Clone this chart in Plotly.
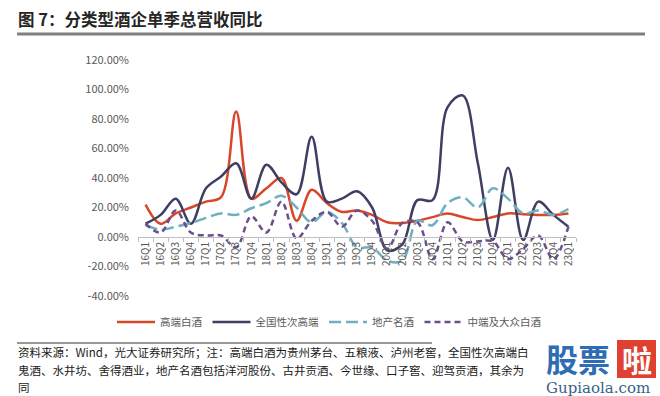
import plotly.graph_objects as go

categories = ["16Q1","16Q2","16Q3","16Q4","17Q1","17Q2","17Q3","17Q4",
              "18Q1","18Q2","18Q3","18Q4","19Q1","19Q2","19Q3","19Q4",
              "20Q1","20Q2","20Q3","20Q4","21Q1","21Q2","21Q3","21Q4",
              "22Q1","22Q2","22Q3","22Q4","23Q1"]

high_end = [22, 9, 16, 20, 24, 27, 85, 26, 33, 40, 11, 32, 23, 17, 18, 15,
            10, 9.5, 11, 13.5, 16, 13.5, 11.5, 13.5, 16, 15.5, 15, 15, 16]
sub_high = [9, 15, 26, 9, 33, 41, 50, 26, 49, 37, 29, 68, 24, 26, 31, 20,
            -9, -5, 25, 25, 88, 96, 50, -2, 47, -2, 24, 15, 7]
regional = [8, 5, 7, 9.5, 13, 16, 15, 19.5, 23, 28, 20, 10, 17, 9.5, -7, -7,
            -16, -16, 11, 8, 23, 27, 20, 33, 26, 16, 18, 15, 19]
mass = [9, 3, 18, 3, 1, 1, -7, 14, 3, 24, -1, 11, 17, 7, 18, 11,
        -8, 9.5, 10, -15, 10, -3, -3, -3, -15, -8, 1, -15, 7]

series_names = ["高端白酒", "全国性次高端", "地产名酒", "中端及大众白酒"]
series_colors = ["#D9472B", "#3F3F63", "#6FAFC0", "#6A4F8C"]
series_dash = ["solid", "solid", "12px,5px", "6px,4px"]

y_tickvals = [-40, -20, 0, 20, 40, 60, 80, 100, 120]
y_ticktext = ["-40.00%", "-20.00%", "0.00%", "20.00%", "40.00%", "60.00%",
              "80.00%", "100.00%", "120.00%"]

W, H = 660, 396
ML, MR, MT, MB = 138, 84, 60, 100
PW, PH = W - ML - MR, H - MT - MB

def px(x):
    return (x - ML) / PW

def py(y):
    return (H - MB - y) / PH

fig = go.Figure()
for name, vals, col, dash in zip(series_names, [high_end, sub_high, regional, mass],
                                 series_colors, series_dash):
    fig.add_trace(go.Scatter(
        x=categories, y=vals, name=name, mode="lines",
        line=dict(color=col, width=2.5, dash=dash, shape="spline", smoothing=1.0),
    ))

font_cjk = "Noto Sans CJK SC, Noto Sans, sans-serif"
ymin, ymax = -40, 120

fig.update_layout(
    width=W, height=H,
    margin=dict(l=ML, r=MR, t=MT, b=MB, autoexpand=False),
    paper_bgcolor="white", plot_bgcolor="white",
    font=dict(family=font_cjk, color="#595959", size=10),
    showlegend=True,
    legend=dict(orientation="h", x=px(112), xanchor="left", y=py(322), yanchor="middle",
                font=dict(size=10.5, color="#595959"), itemwidth=38,
                bgcolor="rgba(0,0,0,0)"),
    xaxis=dict(type="category", range=[-0.5, len(categories) - 0.5],
               anchor="free", position=(0 - ymin) / (ymax - ymin),
               showline=True, linecolor="#BFBFBF", linewidth=1,
               ticks="outside", tickson="boundaries", ticklen=4, tickcolor="#BFBFBF",
               tickangle=-90, tickfont=dict(size=10, color="#595959"),
               showgrid=False, zeroline=False),
    yaxis=dict(range=[ymin, ymax], tickvals=y_tickvals, ticktext=y_ticktext,
               showgrid=False, zeroline=False, showline=False,
               tickfont=dict(size=11, color="#595959"), ticks="",
               ticklabelstandoff=8),
)

# Title
fig.add_annotation(xref="paper", yref="paper", x=px(16), y=py(19), xanchor="left", yanchor="middle",
                   text="<b>图 7：分类型酒企单季总营收同比</b>", showarrow=False,
                   font=dict(size=16.5, color="#262626", family=font_cjk))
fig.add_shape(type="line", xref="paper", yref="paper", x0=px(17), x1=px(645), y0=py(34), y1=py(34),
              line=dict(color="#7F7F7F", width=3))

# Footnote
fig.add_shape(type="line", xref="paper", yref="paper", x0=px(17), x1=px(432), y0=py(343), y1=py(343),
              line=dict(color="#333333", width=1))
foot_lines = [
    "资料来源：Wind，光大证券研究所；注：高端白酒为贵州茅台、五粮液、泸州老窖，全国性次高端白",
    "鬼酒、水井坊、舍得酒业，地产名酒包括洋河股份、古井贡酒、今世缘、口子窖、迎驾贡酒，其余为",
    "同",
]
for t, yy in zip(foot_lines, [352, 370, 387]):
    fig.add_annotation(xref="paper", yref="paper", x=px(16), y=py(yy), xanchor="left", yanchor="middle",
                       text=t, showarrow=False,
                       font=dict(size=11.5, color="#1a1a1a", family=font_cjk))

# Watermark
fig.add_shape(type="rect", xref="paper", yref="paper", x0=px(540), x1=px(660), y0=py(338), y1=py(396),
              line=dict(width=0), fillcolor="rgba(255,255,255,0.85)")
fig.add_annotation(xref="paper", yref="paper", x=px(578), y=py(358), xanchor="center", yanchor="middle",
                   text="<b>股票</b>", showarrow=False,
                   font=dict(size=32, color="#2E6DB4", family=font_cjk))
fig.add_shape(type="rect", xref="paper", yref="paper", x0=px(617), x1=px(656), y0=py(340), y1=py(378),
              line=dict(width=0), fillcolor="#E0402F")
fig.add_annotation(xref="paper", yref="paper", x=px(636.5), y=py(359), xanchor="center", yanchor="middle",
                   text="<b>啦</b>", showarrow=False,
                   font=dict(size=30, color="white", family=font_cjk))
fig.add_annotation(xref="paper", yref="paper", x=px(598), y=py(388), xanchor="center", yanchor="middle",
                   text="Gupiaola.com", showarrow=False,
                   font=dict(size=15, color="#3A5F8A", family="DejaVu Serif"))

fig.write_html("out.html", config={"displayModeBar": False},
               post_script="document.body.style.margin='0';")
